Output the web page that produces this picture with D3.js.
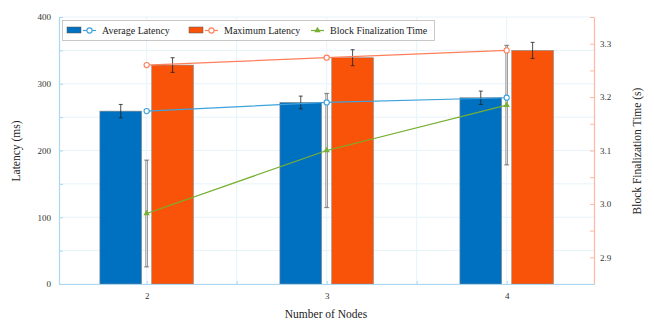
<!DOCTYPE html>
<html>
<head>
<meta charset="utf-8">
<script src="https://cdn.jsdelivr.net/npm/d3@7.9.0/dist/d3.min.js"></script>
<style>
  html, body { margin: 0; padding: 0; background: #fff; }
</style>
</head>
<body>
<svg id="chart" width="654" height="321"></svg>
<script>
const nodes        = [2, 3, 4];
const avgLatency   = [259, 272, 279];
const avgErr       = [10, 9.5, 10];
const maxLatency   = [328, 339, 350];
const maxErr       = [11, 12, 12];
const blockTime    = [2.982, 3.100, 3.185];
const blockErr     = [0.10, 0.107, 0.112];
const leftTicks    = [0, 100, 200, 300, 400];
const rightTicks   = [2.9, 3.0, 3.1, 3.2, 3.3];

const W = 654, H = 321;
const FONT = "'Liberation Serif'";
const m = { left: 59, right: 60, top: 17, bottom: 37 };
const svg = d3.select('#chart').attr('font-family', FONT);

const x  = d3.scaleLinear().domain([1.513, 4.485]).range([m.left, W - m.right]);
const yL = d3.scaleLinear().domain([0, 400]).range([H - m.bottom, m.top]);
const yR = d3.scaleLinear().domain([2.85, 3.35]).range([H - m.bottom, m.top]);

const C = {
  blueBar: '#0070c0', orangeBar: '#f85308',
  blueLine: '#3ea2dc', orangeLine: '#ff7f5a', green: '#77b032',
  leftAxis: '#a9d8f0', rightAxis: '#ffb7a3', grid: '#e6f3fa'
};

// grid
const g = svg.append('g');
g.selectAll('line.h')
  .data(d3.range(0, 401, 50))
  .join('line')
    .attr('x1', m.left).attr('x2', W - m.right)
    .attr('y1', d => yL(d)).attr('y2', d => yL(d))
    .attr('stroke', C.grid).attr('stroke-width', 1);
g.selectAll('line.v')
  .data(d3.range(2, 4.01, 0.5))
  .join('line')
    .attr('y1', m.top).attr('y2', H - m.bottom)
    .attr('x1', d => x(d)).attr('x2', d => x(d))
    .attr('stroke', C.grid).attr('stroke-width', 1);

// bars
const barW = 0.232, off = 0.144;
const bars = [
  { vals: avgLatency, err: avgErr, color: C.blueBar, dx: -off },
  { vals: maxLatency, err: maxErr, color: C.orangeBar, dx: off }
];
bars.forEach(s => {
  svg.append('g').selectAll('rect')
    .data(nodes)
    .join('rect')
      .attr('x', (d) => x(d + s.dx - barW / 2))
      .attr('width', x(barW) - x(0))
      .attr('y', (d, i) => yL(s.vals[i]))
      .attr('height', (d, i) => yL(0) - yL(s.vals[i]))
      .attr('fill', s.color)
      .attr('stroke', '#8a8a8a').attr('stroke-width', 0.6);
  const eb = svg.append('g').attr('stroke', '#222').attr('stroke-width', 0.8);
  nodes.forEach((d, i) => {
    const cx = x(d + s.dx), t = yL(s.vals[i] + s.err[i]), b = yL(s.vals[i] - s.err[i]);
    eb.append('line').attr('x1', cx).attr('x2', cx).attr('y1', t).attr('y2', b);
    eb.append('line').attr('x1', cx - 2).attr('x2', cx + 2).attr('y1', t).attr('y2', t);
    eb.append('line').attr('x1', cx - 2).attr('x2', cx + 2).attr('y1', b).attr('y2', b);
  });
});

// block finalization error bars (gray, hollow look)
const ge = svg.append('g');
nodes.forEach((d, i) => {
  const cx = x(d), t = yR(blockTime[i] + blockErr[i]), b = yR(blockTime[i] - blockErr[i]);
  ge.append('line').attr('x1', cx).attr('x2', cx).attr('y1', t).attr('y2', b)
    .attr('stroke', '#8c8c8c').attr('stroke-width', 2.6);
  ge.append('line').attr('x1', cx).attr('x2', cx).attr('y1', t + 1).attr('y2', b - 1)
    .attr('stroke', '#e4e4e4').attr('stroke-width', 1);
  [t, b].forEach(yy => ge.append('line')
    .attr('x1', cx - 2.5).attr('x2', cx + 2.5).attr('y1', yy).attr('y2', yy)
    .attr('stroke', '#777').attr('stroke-width', 0.9));
});

// lines
const lineL = d3.line().x((d, i) => x(nodes[i])).y(d => yL(d));
const lineR = d3.line().x((d, i) => x(nodes[i])).y(d => yR(d));

svg.append('path').datum(avgLatency).attr('d', lineL)
  .attr('fill', 'none').attr('stroke', C.blueLine).attr('stroke-width', 1.2);
svg.append('g').selectAll('circle').data(avgLatency).join('circle')
  .attr('cx', (d, i) => x(nodes[i])).attr('cy', d => yL(d)).attr('r', 2.6)
  .attr('fill', '#fff').attr('stroke', C.blueLine).attr('stroke-width', 1.1);

svg.append('path').datum(maxLatency).attr('d', lineL)
  .attr('fill', 'none').attr('stroke', C.orangeLine).attr('stroke-width', 1.2);
svg.append('g').selectAll('circle').data(maxLatency).join('circle')
  .attr('cx', (d, i) => x(nodes[i])).attr('cy', d => yL(d)).attr('r', 2.6)
  .attr('fill', '#fff').attr('stroke', C.orangeLine).attr('stroke-width', 1.1);

svg.append('path').datum(blockTime).attr('d', lineR)
  .attr('fill', 'none').attr('stroke', C.green).attr('stroke-width', 1.2);
const tri = d3.symbol().type(d3.symbolTriangle).size(18);
svg.append('g').selectAll('path').data(blockTime).join('path')
  .attr('d', tri)
  .attr('transform', (d, i) => `translate(${x(nodes[i])},${yR(d)})`)
  .attr('fill', C.green);

// axes
const styleAxis = (sel, color) => {
  sel.attr('font-family', FONT);
  sel.select('.domain').attr('stroke', color).attr('stroke-width', 1.2);
  sel.selectAll('.tick line').attr('stroke', color);
  sel.selectAll('.tick text').attr('fill', '#333').attr('font-size', 9).attr('font-family', FONT);
};

const axL = svg.append('g').attr('transform', `translate(${m.left},0)`)
  .call(d3.axisLeft(yL).tickValues(d3.range(0, 401, 50)).tickSizeInner(-4).tickSizeOuter(0).tickPadding(8)
    .tickFormat(d => leftTicks.includes(d) ? d : ''));
styleAxis(axL, C.leftAxis);

const axR = svg.append('g').attr('transform', `translate(${W - m.right},0)`)
  .call(d3.axisRight(yR).tickValues(d3.range(2.85, 3.351, 0.05).map(v => +v.toFixed(2)))
    .tickSizeInner(-4).tickSizeOuter(0).tickPadding(6)
    .tickFormat(d => rightTicks.some(t => Math.abs(t - d) < 1e-6) ? d3.format('.1f')(d) : ''));
styleAxis(axR, C.rightAxis);

const axB = svg.append('g').attr('transform', `translate(0,${H - m.bottom})`)
  .call(d3.axisBottom(x).tickValues(d3.range(2, 4.01, 0.5)).tickSizeInner(-3).tickSizeOuter(0).tickPadding(9)
    .tickFormat(d => nodes.includes(d) ? d : ''));
styleAxis(axB, C.leftAxis);

// axis titles
const title = (t, tr) => svg.append('text').attr('transform', tr).attr('text-anchor', 'middle')
  .attr('font-size', 11.5).attr('font-family', FONT).attr('fill', '#222').text(t);
title('Number of Nodes', 'translate(326,318)');
title('Latency (ms)', 'translate(20,151) rotate(-90)');
title('Block Finalization Time (s)', 'translate(641,151) rotate(-90)');

// legend
const lg = svg.append('g');
lg.append('rect').attr('x', 62.5).attr('y', 20.5).attr('width', 372).attr('height', 20)
  .attr('fill', '#fff').attr('stroke', '#bbb').attr('stroke-width', 0.8);
const items = [
  { label: 'Average Latency', bar: C.blueBar, line: C.blueLine, mark: 'circle', x: 67 },
  { label: 'Maximum Latency', bar: C.orangeBar, line: C.orangeLine, mark: 'circle', x: 189 },
  { label: 'Block Finalization Time', bar: null, line: C.green, mark: 'tri', x: 311 }
];
items.forEach(it => {
  let lx = it.x;
  if (it.bar) {
    lg.append('rect').attr('x', lx).attr('y', 27).attr('width', 14).attr('height', 6)
      .attr('fill', it.bar).attr('stroke', '#555').attr('stroke-width', 0.5);
    lx += 16;
  }
  lg.append('line').attr('x1', lx).attr('x2', lx + 13).attr('y1', 30.5).attr('y2', 30.5)
    .attr('stroke', it.line).attr('stroke-width', 1.2);
  if (it.mark === 'circle') {
    lg.append('circle').attr('cx', lx + 6.5).attr('cy', 30.5).attr('r', 2.6)
      .attr('fill', '#fff').attr('stroke', it.line).attr('stroke-width', 1.1);
  } else {
    lg.append('path').attr('d', tri).attr('transform', `translate(${lx + 6.5},30.5)`).attr('fill', it.line);
  }
  lg.append('text').attr('x', lx + 19).attr('y', 34).attr('font-size', 10).attr('font-family', FONT)
    .attr('fill', '#222').text(it.label);
});
</script>
</body>
</html>
